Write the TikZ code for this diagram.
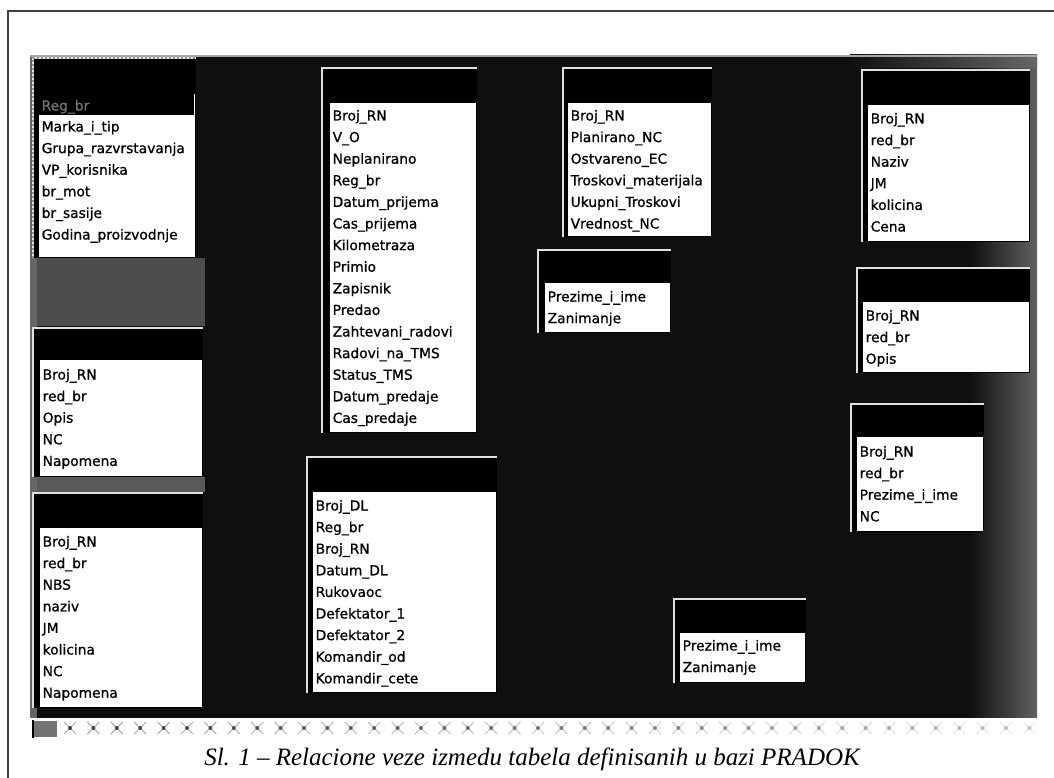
\documentclass[tikz,border=0pt]{standalone}
\usepackage{fontspec}
\newfontfamily\tblfont[FakeBold=0.9]{DejaVu Sans}
\newfontfamily\capfont{Liberation Serif}
\newcommand\dbtab[9]{%
  \fill[black] (#2,#3) rectangle (#4,#5);
  \draw[hilite] (#2,#5) -- (#2,#3) -- (#4,#3);
  \node[body, anchor=north west, minimum width={#4-#6-1}, minimum height={#5-#7-1}] (#1) at (#6,#7) {};
  \foreach \r [count=\i from 0] in {#9} \node[row] (#1-\i) at (#6+2.5, #8+21.6*\i) {\r};
}
\begin{document}
\begin{tikzpicture}[x=1pt,y=-1pt,
  hilite/.style={draw=black!12, line width=2pt},
  body/.style={fill=white, draw=none, inner sep=0pt},
  row/.style={anchor=west, inner sep=0pt, font=\tblfont\fontsize{13.8}{15}\selectfont, text height=10pt, text depth=3pt},
]
\useasboundingbox (0,0) rectangle (1054,778);
\fill[white] (0,0) rectangle (1054,778);
% frame of the figure
\draw[black!75, line width=1.3pt] (8,778) -- (8,11) -- (1054,11);
% dark work area
\fill[black!94] (30,55) rectangle (1037,718);
\shade[left color=black!94, right color=black!62] (970,55) rectangle (1037,718);
\fill[black!70] (30,258) rectangle (205,326);
\fill[black!65] (30,477) rectangle (205,492);
\fill[black!60] (30,55) rectangle (37,718);
\shade[left color=black!94, right color=black!60] (850,55) rectangle (1037,68);
\draw[black!35, line width=1.2pt] (30,56) -- (1037,56);
% scroll bar
\fill[white] (30,718) rectangle (1040,738);
\fill[black!55] (33,721) rectangle (57,737);
\draw[black, line width=1.5pt] (33,720) -- (33,738);
\foreach \k in {0,...,41} {
  \pgfmathsetmacro\op{max(0.25,1-\k/55)}
  \draw[black!35, line width=1pt, opacity=\op] (70+23.4*\k-6,722) -- (70+23.4*\k+6,734) (70+23.4*\k-6,734) -- (70+23.4*\k+6,722);
  \fill[black!75, opacity=\op] (70+23.4*\k,728) circle (2);
}
% tables
\dbtab{t1}{33}{58}{196}{258}{39}{115}{128}{Marka\_i\_tip, Grupa\_razvrstavanja, VP\_korisnika, br\_mot, br\_sasije, Godina\_proizvodnje}
\draw[black!40, line width=2pt, dotted] (33,258) -- (33,58) -- (196,58);
\node[row, text=black!55] (t1-key) at (41.5,107) {Reg\_br};
\draw[white, line width=1.2pt] (194.5,94) -- (194.5,115);
\dbtab{t2}{33}{328}{203}{477}{40}{360}{376}{Broj\_RN, red\_br, Opis, NC, Napomena}
\dbtab{t3}{33}{493}{203}{708}{40}{528}{543}{Broj\_RN, red\_br, NBS, naziv, JM, kolicina, NC, Napomena}
\dbtab{t4}{322}{68}{477}{433}{330}{103}{117}{Broj\_RN, V\_O, Neplanirano, Reg\_br, Datum\_prijema, Cas\_prijema, Kilometraza, Primio, Zapisnik, Predao, Zahtevani\_radovi, Radovi\_na\_TMS, Status\_TMS, Datum\_predaje, Cas\_predaje}
\dbtab{t5}{563}{68}{712}{237}{568}{103}{117}{Broj\_RN, Planirano\_NC, Ostvareno\_EC, Troskovi\_materijala, Ukupni\_Troskovi, Vrednost\_NC}
\dbtab{t6}{538}{250}{671}{333}{545}{283}{298}{Prezime\_i\_ime, Zanimanje}
\dbtab{t7}{862}{70}{1030}{242}{868}{105}{120}{Broj\_RN, red\_br, Naziv, JM, kolicina, Cena}
\dbtab{t8}{857}{268}{1030}{373}{863}{302}{317}{Broj\_RN, red\_br, Opis}
\dbtab{t9}{851}{404}{984}{532}{857}{437}{453}{Broj\_RN, red\_br, Prezime\_i\_ime, NC}
\dbtab{t10}{307}{457}{497}{693}{313}{492}{507}{Broj\_DL, Reg\_br, Broj\_RN, Datum\_DL, Rukovaoc, Defektator\_1, Defektator\_2, Komandir\_od, Komandir\_cete}
\dbtab{t11}{674}{599}{806}{683}{680}{633}{647}{Prezime\_i\_ime, Zanimanje}
% caption
\node[inner sep=0pt, font=\capfont\itshape\fontsize{25}{28}\selectfont] (cap) at (532,759) {Sl. 1 \textendash{} Relacione veze izmedu tabela definisanih u bazi PRADOK};
\end{tikzpicture}
\end{document}
